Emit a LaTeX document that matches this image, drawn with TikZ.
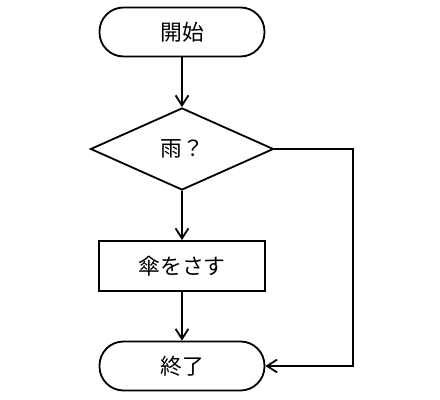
\documentclass[tikz,border=0pt]{standalone}
\usepackage{fontspec}
\setmainfont{Noto Sans CJK JP}
\usetikzlibrary{shapes.geometric,arrows.meta}

\begin{document}
\begin{tikzpicture}
    % Styles
    \tikzset{
        terminal/.style={draw, line width=1.3pt, rectangle, rounded corners=0.6cm, minimum width=4.125cm, minimum height=1.225cm, font=\fontsize{15.5}{17}\selectfont},
        decision/.style={draw, line width=1.3pt, diamond, inner sep=0pt, minimum width=4.575cm, minimum height=2.05cm, font=\fontsize{15.5}{17}\selectfont},
        process/.style={draw, line width=1.3pt, rectangle, minimum width=4.15cm, minimum height=1.25cm, font=\fontsize{15.5}{17}\selectfont},
        flow/.style={line width=1.3pt, -{Straight Barb[length=2.5mm,width=3.2mm]}}
    }

    % Frame
    \useasboundingbox (0,0) rectangle (11,10);

    % Nodes
    \node[terminal] (start) at (4.55,9.2) {開始};
    \node[decision] (rain) at (4.55,6.275) {雨？};
    \node[process] (umbrella) at (4.55,3.35) {傘をさす};
    \node[terminal] (stop) at (4.55,0.85) {終了};

    % Bypass corners
    \coordinate (c1) at (8.825,6.275);
    \coordinate (c2) at (8.825,0.85);

    % Connectors
    \draw[flow] (start) -- (rain);
    \draw[flow] (rain) -- (umbrella);
    \draw[flow] (umbrella) -- (stop);
    \draw[flow] (rain.east) -- (c1) -- (c2) -- (stop.east);

\end{tikzpicture}
\end{document}
